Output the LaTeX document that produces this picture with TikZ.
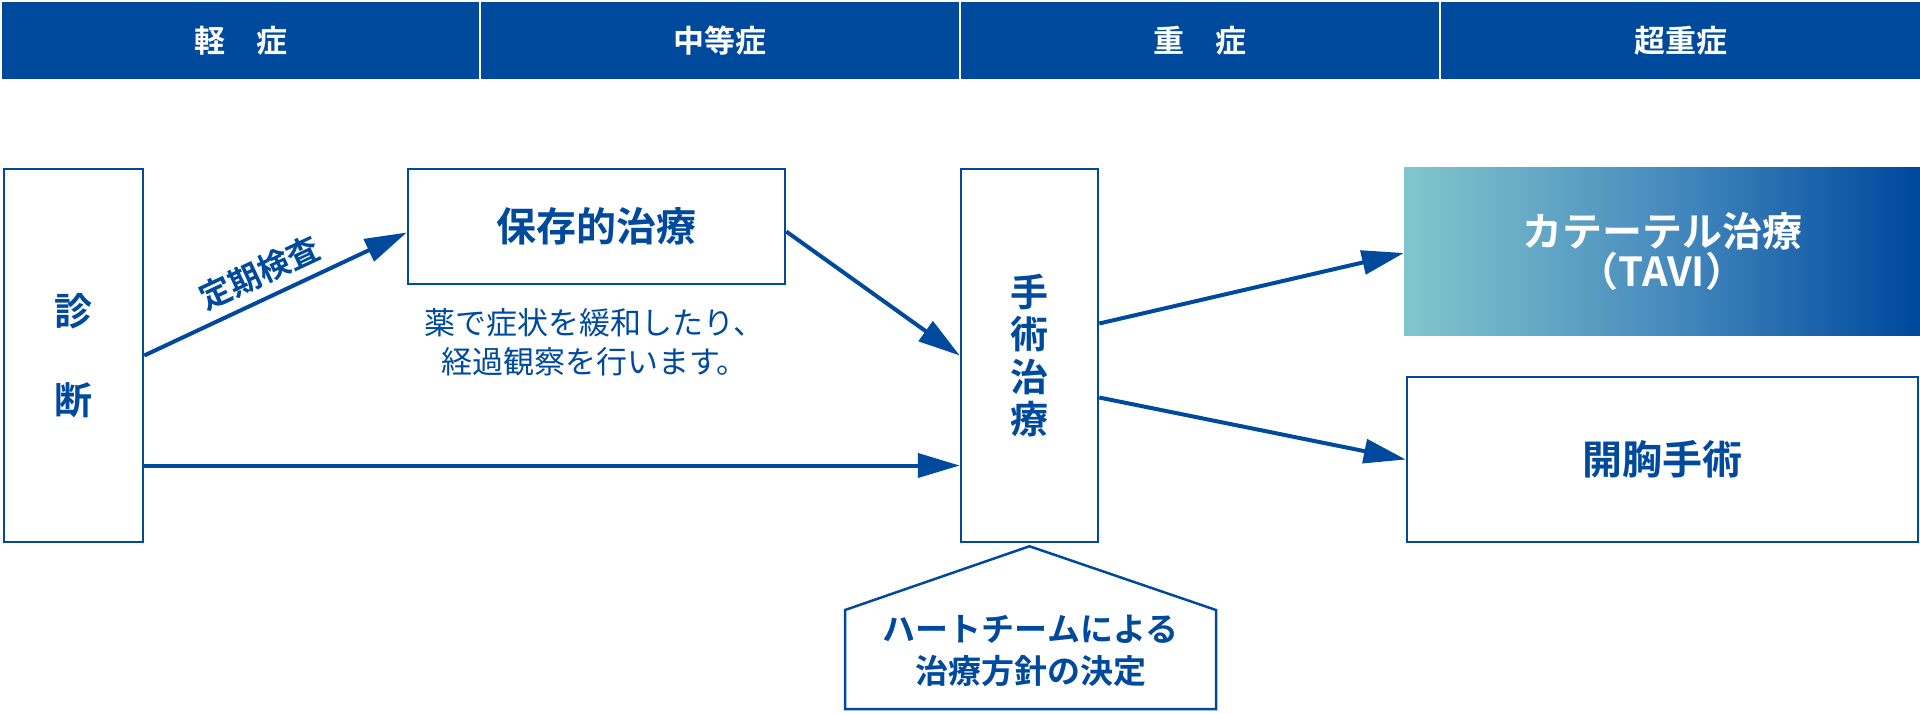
\documentclass[tikz,border=0pt]{standalone}
\usepackage{fontspec}
\setmainfont{Noto Sans CJK JP}[BoldFont={Noto Sans CJK JP Bold}]
\usetikzlibrary{arrows.meta}
\definecolor{hblue}{RGB}{0,74,158}
\definecolor{tavl}{RGB}{128,196,204}
\definecolor{tavm}{RGB}{72,140,190}
\definecolor{tavr}{RGB}{0,74,158}
\pgfdeclarehorizontalshading{tavishade}{100bp}{color(0bp)=(tavl); color(26bp)=(tavl); color(50bp)=(tavm); color(74bp)=(tavr); color(100bp)=(tavr)}
\tikzset{
  hcell/.style={fill=hblue, text=white, inner sep=0pt, minimum width=477pt, minimum height=77pt,
    font=\bfseries\fontsize{31pt}{36pt}\selectfont},
  box/.style={draw=hblue, line width=2.5pt, fill=white, text=hblue, inner sep=0pt, align=center},
  bigtxt/.style={font=\bfseries\fontsize{40pt}{39pt}\selectfont},
  arr/.style={draw=hblue, line width=4pt, -{Triangle[length=42pt,width=24pt]}},
  note/.style={text=hblue, align=center, inner sep=0pt},
}
\begin{document}
\begin{tikzpicture}[x=1pt,y=-1pt]
\useasboundingbox (0,0) rectangle (1920,713);
% header
\node[hcell] (h1) at (240.5,40.5) {軽　症};
\node[hcell, minimum width=478pt] (h2) at (720,40.5) {中等症};
\node[hcell, minimum width=478pt] (h3) at (1200,40.5) {重　症};
\node[hcell, minimum width=479pt] (h4) at (1680.5,40.5) {超重症};
% boxes
\node[box, minimum width=139pt, minimum height=373pt,
  font=\bfseries\fontsize{38pt}{89pt}\selectfont] (shindan) at (73.5,355.5) {診\\断};
\node[box, minimum width=377pt, minimum height=115pt, bigtxt] (hozon) at (596.5,226.5) {保存的治療};
\node[box, minimum width=137pt, minimum height=373pt,
  font=\bfseries\fontsize{38pt}{42.3pt}\selectfont] (shujutsu) at (1029.5,355.5) {手\\術\\治\\療};
\node[shade, shading=tavishade, minimum width=516pt, minimum height=168pt, inner sep=0pt,
  text=white, align=center, bigtxt] (tavi) at (1662,251) {\raisebox{-8pt}{\shortstack{カテーテル治療\\[-1pt]（TAVI）}}};
\node[box, minimum width=511pt, minimum height=165pt, bigtxt] (kaikyo) at (1662.5,459.5) {開胸手術};
% note under hozon
\node[note, font=\fontsize{31pt}{39pt}\selectfont] (kusuri) at (594.5,342.5) {薬で症状を緩和したり、\\経過観察を行います。};
% arrows
\draw[arr] (shindan.east) -- ([yshift=-6pt]hozon.west)
  node[pos=0.48, sloped, above=9pt, text=hblue, inner sep=0pt,
       font=\bfseries\fontsize{32pt}{36pt}\selectfont] (teiki) {定期検査};
\draw[arr] ([yshift=-110pt]shindan.east) -- ([yshift=-110pt]shujutsu.west);
\draw[arr] ([yshift=-5pt]hozon.east) -- (shujutsu.west);
\draw[arr] ([yshift=32pt]shujutsu.east) -- ([yshift=-2pt]tavi.west);
\draw[arr] ([yshift=-42pt]shujutsu.east) -- (kaikyo.west);
% team house
\coordinate (apex) at ([yshift=-3pt]shujutsu.south);
\draw[draw=hblue, line width=2.5pt, line join=miter, fill=white]
  (apex) -- (1216,610) -- (1216,709) -- (845,709) -- (845,610) -- cycle;
\node[note, font=\bfseries\fontsize{33pt}{42pt}\selectfont] (team) at (1030.5,651) {ハートチームによる\\治療方針の決定};
\end{tikzpicture}
\end{document}
